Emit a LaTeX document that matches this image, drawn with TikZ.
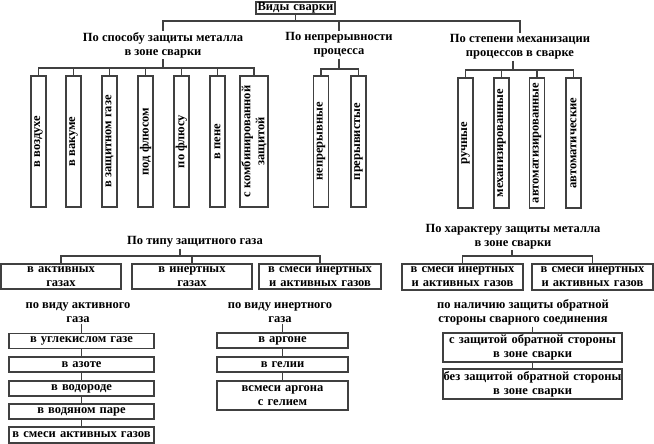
\documentclass[tikz,border=0pt]{standalone}
\usepackage{fontspec}
\setmainfont{Liberation Serif}
\usetikzlibrary{positioning}
\tikzstyle{box}=[draw=black!75, line width=1.2pt, inner xsep=0pt, inner ysep=1pt, align=center]
\tikzstyle{vbox}=[box, rotate=90, minimum width=131pt, minimum height=15pt]
\tikzstyle{hbox}=[box, minimum height=15pt]
\tikzstyle{head}=[align=center, inner sep=1pt]
\tikzstyle{link}=[draw=black!75, line width=1.2pt]

\begin{document}
\begin{tikzpicture}[x=1pt,y=1pt]

      \tikzstyle{every node}=[font=\fontsize{12.5}{14}\selectfont\bfseries]
      \useasboundingbox (0,0) rectangle (654,-444);

      % top
      \node[box, text width=79pt, minimum height=12pt, inner ysep=0pt] (root) at (295.5,-8) {Виды сварки};
      \coordinate (bus_top) at (295.5,-21);

      \node[head] (head_metal) at (163,-45) {По способу защиты металла\\в зоне сварки};
      \node[head] (head_cont) at (339,-45) {По непрерывности\\процесса};
      \node[head] (head_mech) at (520,-47) {По степени механизации\\процессов в сварке};

      \draw[link] (root.south) -- (bus_top);
      \foreach \n in {head_metal, head_cont, head_mech}
        \draw[link] (bus_top) -| (\n.north);

      % protection of metal
      \node[vbox] (metal_air) at (38.5,-141.5) {в воздухе};
      \node[vbox] (metal_vacuum) at (73.5,-141.5) {в вакуме};
      \node[vbox] (metal_gas) at (109.5,-141.5) {в защитном газе};
      \node[vbox] (metal_underflux) at (145.5,-141.5) {под флюсом};
      \node[vbox] (metal_flux) at (181.5,-141.5) {по флюсу};
      \node[vbox] (metal_foam) at (217.5,-141.5) {в пене};
      \node[vbox, minimum height=28pt] (metal_comb) at (254,-141.5) {с комбинированной\\защитой};

      \coordinate (bus_metal) at (163,-68);
      \draw[link] (head_metal.south) -- (bus_metal);
      \foreach \n in {metal_air, metal_vacuum, metal_gas, metal_underflux, metal_flux, metal_foam, metal_comb}
        \draw[link] (bus_metal) -| (\n.east);

      % continuity
      \node[vbox] (cont_yes) at (321,-141.5) {непрерывные};
      \node[vbox] (cont_no) at (358.5,-141.5) {прерывистые};

      \coordinate (bus_cont) at (339,-69);
      \draw[link] (head_cont.south) -- (bus_cont);
      \foreach \n in {cont_yes, cont_no}
        \draw[link] (bus_cont) -| (\n.east);

      % mechanisation
      \node[vbox, minimum width=130pt] (mech_hand) at (465.5,-143) {ручные};
      \node[vbox, minimum width=130pt] (mech_mech) at (501.5,-143) {механизированные};
      \node[vbox, minimum width=130pt] (mech_autom) at (537,-143) {автоматизированные};
      \node[vbox, minimum width=130pt] (mech_auto) at (573.5,-143) {автоматические};

      \coordinate (bus_mech) at (513,-70);
      \draw[link] (bus_mech |- head_mech.south) -- (bus_mech);
      \foreach \n in {mech_hand, mech_mech, mech_autom, mech_auto}
        \draw[link] (bus_mech) -| (\n.east);

      % shielding gas
      \node[head] (head_gas) at (195,-242) {По типу защитного газа};
      \node[box, text width=120pt, minimum height=25pt] (gas_active) at (61,-276.5) {в активных\\газах};
      \node[box, text width=120pt, minimum height=25pt] (gas_inert) at (192,-276.5) {в инертных\\газах};
      \node[box, text width=122pt, minimum height=25pt] (gas_mix) at (320,-276.5) {в смеси инертных\\и активных газов};

      \coordinate (bus_gas) at (180,-256);
      \draw[link] (bus_gas |- head_gas.south) -- (bus_gas);
      \foreach \n in {gas_active, gas_inert, gas_mix}
        \draw[link] (bus_gas) -| (\n.north);

      % character of protection
      \node[head] (head_char) at (513,-236.5) {По характеру защиты металла\\в зоне сварки};
      \node[box, text width=121pt, minimum height=26pt] (char_left) at (462.5,-277) {в смеси инертных\\и активных газов};
      \node[box, text width=121pt, minimum height=26pt] (char_right) at (592.5,-277) {в смеси инертных\\и активных газов};

      \coordinate (bus_char) at (512,-256);
      \draw[link] (bus_char |- head_char.south) -- (bus_char);
      \foreach \n in {char_left, char_right}
        \draw[link] (bus_char) -| (\n.north);

      % active gases
      \node[head] (head_active) at (78,-312.5) {по виду активного\\газа};
      \node[hbox, text width=145pt] (act_co2) at (81.5,-341) {в углекислом газе};
      \node[hbox, text width=145pt] (act_n2) at (81.5,-364.5) {в азоте};
      \node[hbox, text width=145pt] (act_h2) at (81.5,-388.5) {в водороде};
      \node[hbox, text width=145pt] (act_steam) at (81.5,-411.5) {в водяном паре};
      \node[hbox, text width=145pt, minimum height=16pt] (act_mix) at (81.5,-435) {в смеси активных газов};

      \draw[link] (head_active.south -| act_co2.north) -- (act_co2.north);
      \draw[link] (act_co2) -- (act_n2);
      \draw[link] (act_n2) -- (act_h2);
      \draw[link] (act_h2) -- (act_steam);
      \draw[link] (act_steam) -- (act_mix);

      % inert gases
      \node[head] (head_inert) at (280,-312.5) {по виду инертного\\газа};
      \node[hbox, text width=131pt] (inert_ar) at (282.5,-340.5) {в аргоне};
      \node[hbox, text width=131pt] (inert_he) at (282.5,-364.5) {в гелии};
      \node[hbox, text width=131pt, minimum height=29pt] (inert_mix) at (282.5,-395.5) {всмеси аргона\\с гелием};

      \draw[link] (head_inert.south -| inert_ar.north) -- (inert_ar.north);
      \draw[link] (inert_ar) -- (inert_he);
      \draw[link] (inert_he) -- (inert_mix);

      % back side
      \node[head] (head_back) at (523,-312.5) {по наличию защиты обратной\\стороны сварного соединения};
      \node[hbox, text width=179pt, minimum height=29pt] (back_yes) at (532.5,-347.5) {с защитой обратной стороны\\в зоне сварки};
      \node[hbox, text width=179pt, minimum height=30pt] (back_no) at (532.5,-384) {без защитой обратной стороны\\в зоне сварки};

      \draw[link] (head_back.south -| back_yes.north) -- (back_yes.north);
      \draw[link] (back_yes) -- (back_no);

\end{tikzpicture}
\end{document}
